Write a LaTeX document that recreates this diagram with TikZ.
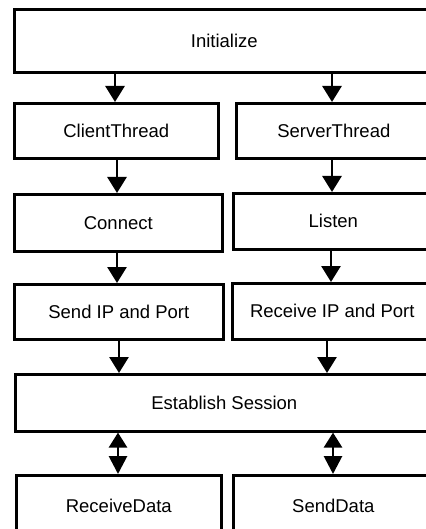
\documentclass[tikz,border=0pt]{standalone}
\usepackage{fontspec}
\setmainfont{Liberation Sans}
\usetikzlibrary{arrows.meta}
\begin{document}
\begin{tikzpicture}[x=1pt,y=-1pt,
  box/.style={draw,line width=2.6pt,rectangle,inner sep=0pt,anchor=north west,
    font=\fontsize{18.5}{22}\selectfont},
  arr/.style={line width=2.8pt,-{Triangle[width=19pt,length=16pt]}},
  biarr/.style={line width=2.8pt,{Triangle[width=18pt,length=15pt]}-{Triangle[width=18pt,length=18pt]}}]
\useasboundingbox (0,0) rectangle (425,529);
\node[box,minimum width=420pt,minimum height=63pt] (init) at (13,8) {Initialize};
\node[box,minimum width=204pt,minimum height=55pt] (client) at (13,102) {ClientThread};
\node[box,minimum width=195pt,minimum height=55pt] (server) at (235,102) {ServerThread};
\node[box,minimum width=208pt,minimum height=57pt] (connect) at (13,193) {Connect};
\node[box,minimum width=200pt,minimum height=56pt] (listen) at (232,192) {Listen};
\node[box,minimum width=209pt,minimum height=55pt] (sendip) at (13,283) {Send IP and Port};
\node[box,minimum width=200pt,minimum height=56pt] (recvip) at (231,282) {Receive IP and Port};
\node[box,minimum width=418pt,minimum height=57pt] (estab) at (14,373) {Establish Session};
\node[box,minimum width=205pt,minimum height=62pt] (recvdata) at (15,474) {ReceiveData};
\node[box,minimum width=200pt,minimum height=62pt] (senddata) at (232,474) {SendData};
\coordinate (a1) at (115,0);
\coordinate (a2) at (332,0);
\coordinate (b1) at (117,0);
\coordinate (b2) at (331,0);
\coordinate (c1) at (119,0);
\coordinate (c2) at (327,0);
\coordinate (d1) at (118,0);
\coordinate (d2) at (333,0);
\draw[arr] (init.south -| a1) -- (client.north -| a1);
\draw[arr] (init.south -| a2) -- (server.north -| a2);
\draw[arr] (client.south -| b1) -- (connect.north -| b1);
\draw[arr] (server.south -| a2) -- (listen.north -| a2);
\draw[arr] (connect.south -| b1) -- (sendip.north -| b1);
\draw[arr] (listen.south -| b2) -- (recvip.north -| b2);
\draw[arr] (sendip.south -| c1) -- (estab.north -| c1);
\draw[arr] (recvip.south -| c2) -- (estab.north -| c2);
\draw[biarr] (estab.south -| d1) -- (recvdata.north -| d1);
\draw[biarr] (estab.south -| d2) -- (senddata.north -| d2);
\end{tikzpicture}
\end{document}
